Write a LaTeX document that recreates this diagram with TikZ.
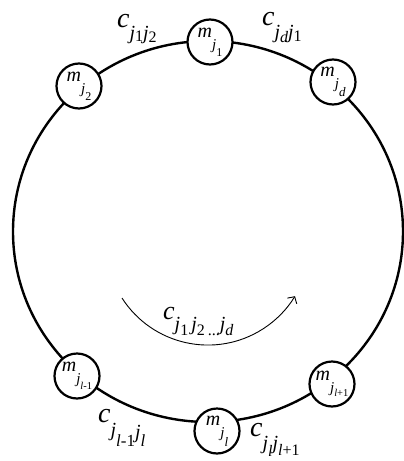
\documentclass[tikz,border=0pt]{standalone}
\usepackage{fontspec}
\setmainfont{Liberation Serif}[ItalicFont={Liberation Serif Italic}]
\newfontfamily\tms{Liberation Serif}[ItalicFont={Liberation Serif Italic}]
\usetikzlibrary{arrows.meta}
\newcommand\fsz[2]{{\fontsize{#1}{#1}\selectfont #2}}
\newcommand\dn[2]{\raisebox{-#1pt}{#2}}
\newcommand\itx[1]{{\tms\itshape #1}}
\begin{document}
\begin{tikzpicture}[x=1pt,y=-1pt,
  font=\tms,
  ring/.style={line width=2.4pt},
  mnode/.style={circle,draw,line width=2.2pt,fill=white,minimum size=45pt,inner sep=0pt},
  elabel/.style={anchor=base west,inner sep=0pt},
  flow/.style={line width=0.9pt,-{Straight Barb[length=5pt,width=11pt]}}]
\useasboundingbox (0,0) rectangle (404,461);
\coordinate (o) at (208,231.5);
\draw[ring] (o) ellipse [x radius=195, y radius=190.5];
% nodes
\node[mnode] (m1) at (210,42) {\fsz{20}{\itx{m}}\dn{12}{\fsz{15}{\itx{j}}}\dn{19}{\fsz{12}{1}}};
\node[mnode] (m2) at (79,86) {\fsz{20}{\itx{m}}\dn{12}{\fsz{15}{\itx{j}}}\dn{19}{\fsz{12}{2}}};
\node[mnode] (md) at (333,82) {\fsz{20}{\itx{m}}\dn{12}{\fsz{15}{\itx{j}}}\dn{20}{\fsz{13}{\itx{d}}}};
\node[mnode] (mlm) at (77,376) {\fsz{20}{\itx{m}}\dn{12}{\fsz{15}{\itx{j}}}\dn{18}{\fsz{10.5}{\itx{l}-1}}};
\node[mnode] (ml) at (217,431) {\fsz{20}{\itx{m}}\dn{12}{\fsz{15}{\itx{j}}}\dn{21}{\fsz{13}{\itx{l}}}};
\node[mnode] (mlp) at (332,384) {\fsz{20}{\itx{m}}\dn{12}{\fsz{15}{\itx{j}}}\dn{16}{\fsz{10.5}{\itx{l}+1}}};
% edge labels
\node[elabel] (c12) at (117,27) {\fsz{28}{\itx{c}}\dn{12}{\fsz{20}{\itx{j}}}\dn{14}{\fsz{16}{1}}\dn{12}{\fsz{20}{\itx{j}}}\dn{15.5}{\fsz{16}{2}}};
\node[elabel] (cd1) at (262,25) {\fsz{28}{\itx{c}}\dn{13}{\fsz{20}{\itx{j}}}\dn{17}{\fsz{16}{\itx{d}}}\dn{13}{\fsz{20}{\itx{j}}}\dn{16}{\fsz{16}{1}}};
\node[elabel] (cll) at (98,422) {\fsz{28}{\itx{c}}\dn{14}{\fsz{20}{\itx{j}}}\dn{24}{\fsz{17}{\itx{l}-1}}\dn{16}{\fsz{20}{\itx{j}}}\dn{24}{\fsz{17}{\itx{l}}}};
\node[elabel] (clp) at (250,436) {\fsz{28}{\itx{c}}\dn{13}{\fsz{20}{\itx{j}}}\dn{20}{\fsz{16}{\itx{l}}}\dn{13}{\fsz{20}{\itx{j}}}\dn{19}{\fsz{16}{\itx{l}+1}}};
% cycle arrow
\coordinate (a0) at (122,298);
\coordinate (a1) at (295,296);
\draw[flow] (a0) arc[start angle=147.4, end angle=31.4, radius=102];
\node[elabel] (cyc) at (163,319) {\fsz{26}{\itx{c}}\dn{11}{\fsz{20}{\itx{j}}}\dn{16}{\fsz{16}{1}}\hspace{3pt}\dn{11}{\fsz{20}{\itx{j}}}\dn{16}{\fsz{16}{2}}\hspace{3pt}\dn{16}{\fsz{16}{...}}\dn{11}{\fsz{20}{\itx{j}}}\dn{16}{\fsz{16}{\itx{d}}}};
\end{tikzpicture}
\end{document}
